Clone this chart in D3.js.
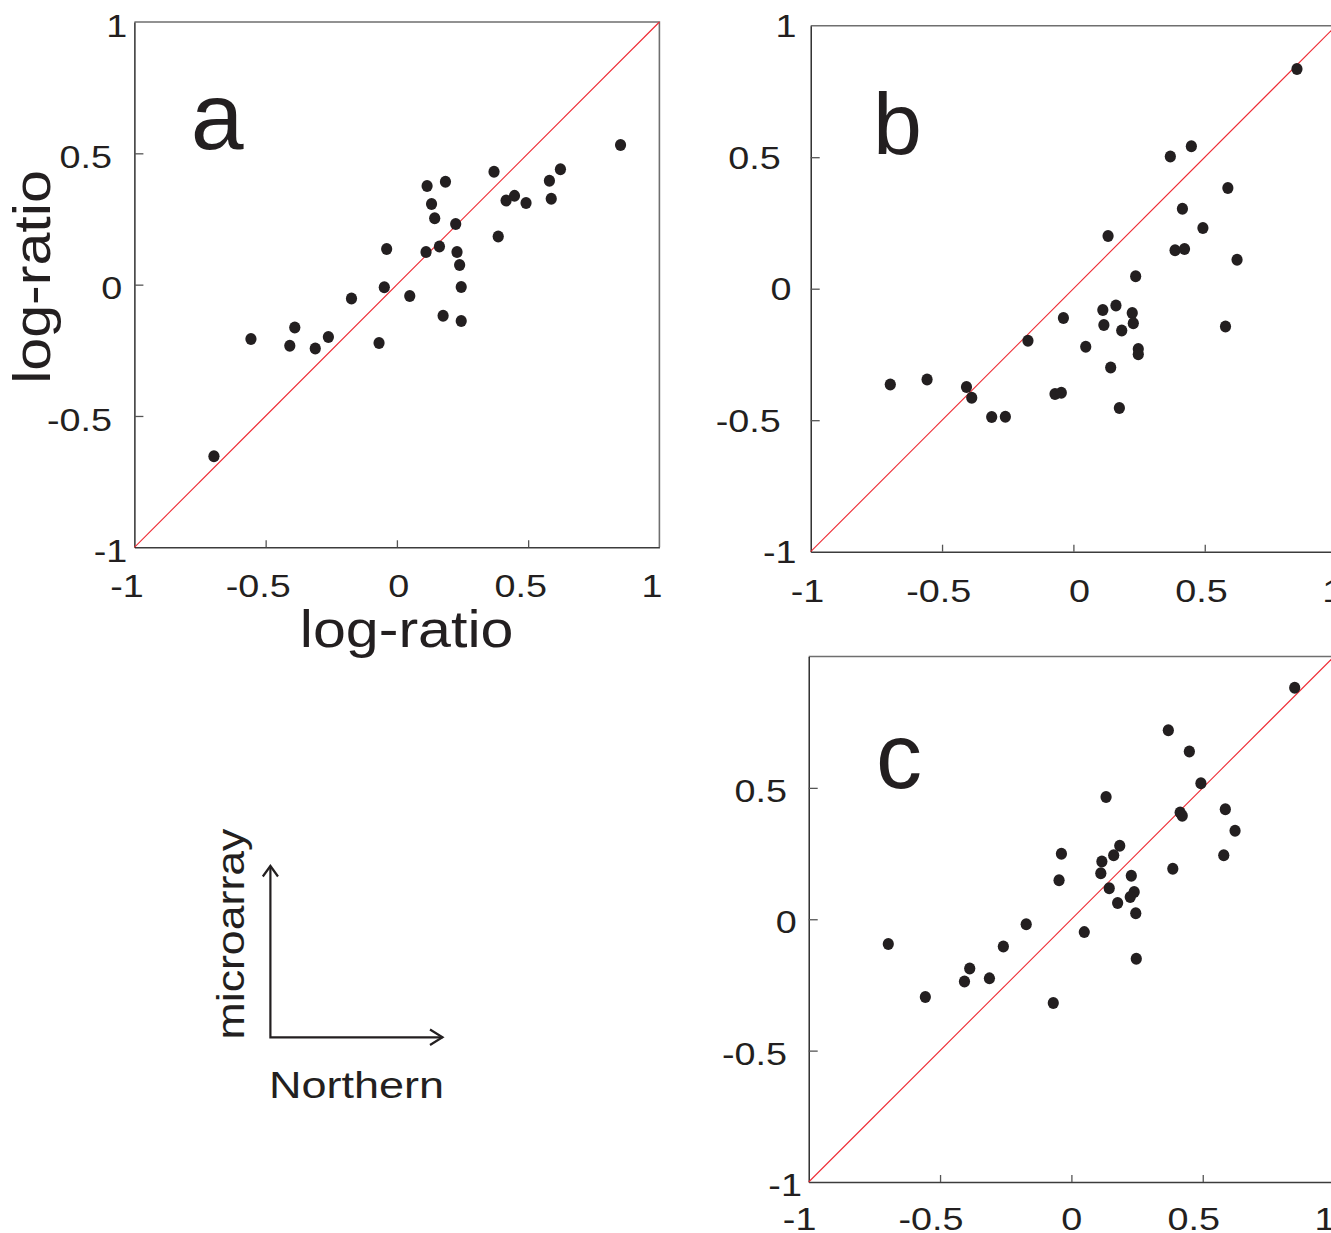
<!DOCTYPE html>
<html>
<head>
<meta charset="utf-8">
<script src="https://cdn.jsdelivr.net/npm/d3@7"></script>
<style>
  body { margin: 0; background: #fff; }
  svg { display: block; }
  text { font-family: "Liberation Sans", Arial, Helvetica, sans-serif; fill: #231f20; }
</style>
</head>
<body>
<svg id="fig" width="1331" height="1233"></svg>
<script>
// Log-ratios per gene: Northern blot (x) against microarray (y), three comparisons.
const northernA = [0.852, 0.370, 0.623, 0.581, 0.588, 0.492, 0.416, 0.448, 0.386, 0.115, 0.185, 0.132, 0.144, 0.224, 0.162, 0.111, 0.229, 0.239, -0.039, 0.245, -0.048, 0.049, -0.173, 0.176, 0.245, -0.556, -0.389, -0.408, -0.311, -0.261, -0.068, -0.697];
const microarrayA = [0.532, 0.430, 0.439, 0.396, 0.327, 0.311, 0.320, 0.338, 0.183, 0.376, 0.392, 0.307, 0.253, 0.231, 0.145, 0.124, 0.124, 0.075, 0.136, -0.009, -0.010, -0.043, -0.053, -0.118, -0.138, -0.207, -0.163, -0.233, -0.243, -0.199, -0.222, -0.653];

const northernB = [0.851, 0.369, 0.449, 0.588, 0.415, 0.493, 0.132, 0.387, 0.423, 0.623, 0.237, 0.162, 0.112, 0.224, -0.038, 0.116, 0.228, 0.184, 0.579, -0.173, 0.047, 0.247, 0.247, 0.142, -0.697, -0.557, -0.407, -0.387, -0.070, -0.046, -0.311, -0.259, 0.175];
const microarrayB = [0.835, 0.503, 0.542, 0.383, 0.304, 0.231, 0.200, 0.146, 0.151, 0.110, 0.047, -0.064, -0.081, -0.092, -0.111, -0.138, -0.131, -0.159, -0.144, -0.198, -0.221, -0.229, -0.249, -0.300, -0.364, -0.345, -0.374, -0.415, -0.400, -0.396, -0.488, -0.487, -0.454];

const northernC = [0.850, 0.369, 0.449, 0.493, 0.132, 0.586, 0.414, 0.422, 0.623, 0.184, 0.161, -0.038, 0.116, 0.112, 0.580, 0.386, 0.228, -0.047, 0.144, 0.239, 0.224, 0.176, 0.245, -0.172, 0.049, -0.697, -0.259, 0.247, -0.387, -0.407, -0.312, -0.556, -0.069];
const microarrayC = [0.881, 0.719, 0.638, 0.518, 0.465, 0.419, 0.406, 0.394, 0.337, 0.280, 0.244, 0.249, 0.220, 0.175, 0.244, 0.192, 0.166, 0.148, 0.118, 0.104, 0.085, 0.062, 0.023, -0.019, -0.049, -0.094, -0.104, -0.150, -0.187, -0.237, -0.225, -0.296, -0.319];

// Axis ticks and labels
const axisDomain = [-1, 1];
const innerTicks = [-0.5, 0, 0.5];
const xTickLabels = [-1, -0.5, 0, 0.5, 1];
const yTickLabelsFull = [1, 0.5, 0, -0.5, -1];
const yTickLabelsNoTop = [0.5, 0, -0.5, -1];
const panelLetters = ["a", "b", "c"];
const axisTitle = "log-ratio";
const keyX = "Northern";
const keyY = "microarray";

const svg = d3.select("#fig");
const ink = "#231f20";
const tickFont = 32, tickStretch = 1.18;
// right side bearing (em) of the last glyph, used to line labels up by their ink
const rightBearing = { "0": 0.048, "5": 0.041, "1": 0.183 };

const panels = [
  { xs: northernA, ys: microarrayA, letter: panelLetters[0], yLabels: yTickLabelsFull,
    left: 134.4, right: 659.4, top: 22, bottom: 547.3,
    yIntGap: 14, yDecGap: 24, yBase: 14.7, xShift: -7.5, xBase: 49.2,
    letterX: 217.1, letterY: 149, letterSize: 95 },
  { xs: northernB, ys: microarrayB, letter: panelLetters[1], yLabels: yTickLabelsFull,
    left: 810.7, right: 1336.1, top: 25.7, bottom: 551.7,
    yIntGap: 21, yDecGap: 31.5, yBase: 11.5, xShift: -3.3, xBase: 50,
    letterX: 897.5, letterY: 154, letterSize: 88 },
  { xs: northernC, ys: microarrayC, letter: panelLetters[2], yLabels: yTickLabelsNoTop,
    left: 808.7, right: 1334.1, top: 656.5, bottom: 1182,
    yIntGap: 13.7, yDecGap: 23.2, yBase: 14, xShift: -9.1, xBase: 48,
    letterX: 899, letterY: 787.6, letterSize: 92 }
];

function drawPanel(p) {
  const x = d3.scaleLinear().domain(axisDomain).range([p.left, p.right]);
  const y = d3.scaleLinear().domain(axisDomain).range([p.bottom, p.top]);
  const g = svg.append("g");

  // top and right frame
  g.append("path")
    .attr("d", `M${x(-1)},${y(1)}H${x(1)}V${y(-1)}`)
    .attr("fill", "none").attr("stroke", "#6f6f6f").attr("stroke-width", 1.6);

  // bottom axis, ticks pointing inward
  const bottom = g.append("g")
    .attr("transform", `translate(0,${y(-1)})`)
    .call(d3.axisBottom(x).tickValues(innerTicks).tickSizeInner(-7).tickSizeOuter(0).tickFormat(""));
  bottom.select(".domain").attr("stroke", "#3c3c3c").attr("stroke-width", 1.4);
  bottom.selectAll(".tick line").attr("stroke", "#555").attr("stroke-width", 1.3);

  // left axis, ticks pointing inward
  const leftAx = g.append("g")
    .attr("transform", `translate(${x(-1)},0)`)
    .call(d3.axisLeft(y).tickValues(innerTicks).tickSizeInner(-9).tickSizeOuter(0).tickFormat(""));
  leftAx.select(".domain").attr("stroke", "#111").attr("stroke-width", 1.3);
  leftAx.selectAll(".tick line").attr("stroke", "#555").attr("stroke-width", 1.3);

  // identity line
  g.append("line")
    .attr("x1", x(-1)).attr("y1", y(-1)).attr("x2", x(1)).attr("y2", y(1))
    .attr("stroke", "#ee2a33").attr("stroke-width", 1.1);

  // points
  g.append("g").selectAll("ellipse")
    .data(d3.zip(p.xs, p.ys))
    .join("ellipse")
    .attr("cx", d => x(d[0])).attr("cy", d => y(d[1]))
    .attr("rx", 5.6).attr("ry", 6)
    .attr("fill", ink);

  // y tick labels
  g.append("g").selectAll("text")
    .data(p.yLabels)
    .join("text")
    .attr("text-anchor", "end")
    .attr("font-size", tickFont)
    .attr("transform", v => {
      const s = String(v);
      const gap = s.includes(".") ? p.yDecGap : p.yIntGap;
      const ax = x(-1) - gap + rightBearing[s.slice(-1)] * tickFont * tickStretch;
      return `translate(${ax},${y(v) + p.yBase}) scale(${tickStretch},1)`;
    })
    .text(v => String(v));

  // x tick labels
  g.append("g").selectAll("text")
    .data(xTickLabels)
    .join("text")
    .attr("text-anchor", "middle")
    .attr("font-size", tickFont)
    .attr("transform", v => `translate(${x(v) + p.xShift + (v === 0 ? 9.4 : 0)},${y(-1) + p.xBase}) scale(${tickStretch},1)`)
    .text(v => String(v));

  // panel letter
  g.append("text")
    .attr("x", p.letterX).attr("y", p.letterY)
    .attr("text-anchor", "middle")
    .attr("font-size", p.letterSize)
    .text(p.letter);
}

panels.forEach(drawPanel);

// axis titles on panel a
svg.append("text")
  .attr("text-anchor", "middle").attr("font-size", 51)
  .attr("transform", "translate(406.6,647) scale(1.16,1)")
  .text(axisTitle);
svg.append("text")
  .attr("text-anchor", "middle").attr("font-size", 51)
  .attr("transform", "translate(50,277) rotate(-90) scale(1.16,1)")
  .text(axisTitle);

// key: which measurement runs along which axis
const key = svg.append("g")
  .attr("fill", "none").attr("stroke", ink).attr("stroke-width", 2.2);
const origin = [270.4, 1037.3];
key.append("path").attr("d", d3.line()([[origin[0], 866], origin, [442.5, origin[1]]]));
key.append("path").attr("d", d3.line()([[262.8, 876.5], [270.4, 866], [278, 876.5]]));
key.append("path").attr("d", d3.line()([[430, 1029.5], [442.5, origin[1]], [430, 1045]]));

svg.append("text")
  .attr("text-anchor", "middle").attr("font-size", 38.5)
  .attr("transform", "translate(244,934) rotate(-90) scale(1.16,1)")
  .text(keyY);
svg.append("text")
  .attr("text-anchor", "middle").attr("font-size", 37.5)
  .attr("transform", "translate(356.4,1098) scale(1.2,1)")
  .text(keyX);
</script>
</body>
</html>
